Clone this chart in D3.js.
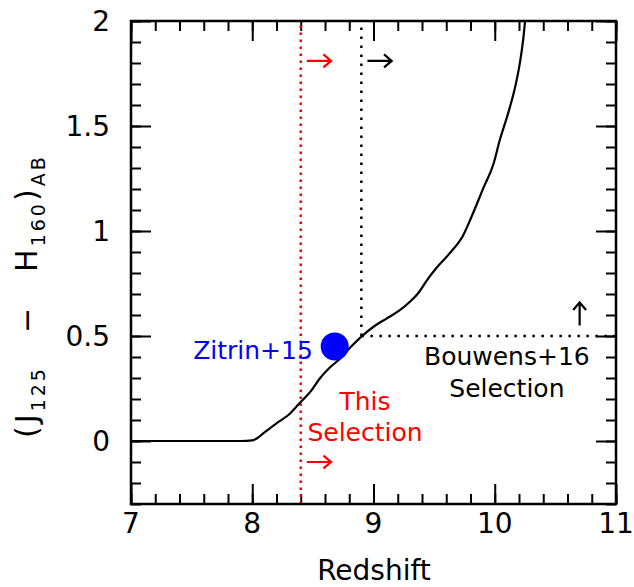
<!DOCTYPE html>
<html>
<head>
<meta charset="utf-8">
<script src="https://cdn.jsdelivr.net/npm/d3@7"></script>
<style>
  body { margin: 0; background: #fff; }
  text { font-family: "DejaVu Sans", sans-serif; }
</style>
</head>
<body>
<script>
// colour track
const redshift = [7.0, 7.5, 7.9, 8.0, 8.04, 8.09, 8.2, 8.31, 8.39, 8.48, 8.56, 8.64, 8.72, 8.81, 8.9,
  9.0, 9.11, 9.22, 9.3, 9.37, 9.44, 9.52, 9.63, 9.74, 9.81, 9.91, 9.99, 10.04, 10.11, 10.17, 10.21, 10.24, 10.25];
const color = [0, 0, 0, 0.003, 0.013, 0.036, 0.084, 0.13, 0.18, 0.235, 0.30, 0.35, 0.39, 0.446, 0.497,
  0.544, 0.584, 0.624, 0.663, 0.705, 0.765, 0.825, 0.895, 0.98, 1.07, 1.21, 1.32, 1.43, 1.56, 1.69, 1.81, 1.94, 2.0];

const zitrinPoint = [8.68, 0.45];
const thisCut = 8.4;
const bouwensZ = 8.9;
const bouwensColor = 0.5;

const xTicks = [7, 8, 9, 10, 11];
const yTicks = [0, 0.5, 1, 1.5, 2];

const w = 634;
const h = 587;
const margin = {top: 21, right: 18, bottom: 83, left: 131};

const svg = d3.select("body").append("svg")
    .attr("width", w)
    .attr("height", h);

const x = d3.scaleLinear().domain([7, 11]).range([margin.left, w - margin.right]);
const y = d3.scaleLinear().domain([-0.3, 2]).range([h - margin.bottom, margin.top]);

const xMinor = d3.range(7, 11.001, 0.2);
const yMinor = d3.range(-0.3, 2.001, 0.1);

function ticks(axis, scale, vals, size) {
  return axis(scale).tickValues(vals).tickSize(-size).tickFormat("");
}

const axes = [
  [d3.axisBottom, x, `translate(0,${y(-0.3)})`],
  [d3.axisTop, x, `translate(0,${y(2)})`],
  [d3.axisLeft, y, `translate(${x(7)},0)`],
  [d3.axisRight, y, `translate(${x(11)},0)`]
];
axes.forEach(([ax, sc, tr]) => {
  const isX = sc === x;
  const g1 = svg.append("g").attr("transform", tr)
      .call(ticks(ax, sc, isX ? xTicks : yTicks, 20));
  const g2 = svg.append("g").attr("transform", tr)
      .call(ticks(ax, sc, isX ? xMinor : yMinor, 10));
  [g1, g2].forEach(g => {
    g.select(".domain").remove();
    g.selectAll("line").attr("stroke", "#000").attr("stroke-width", 2);
  });
});

// tick labels
svg.append("g").selectAll("text")
  .data(xTicks).join("text")
    .attr("x", d => x(d))
    .attr("y", 533)
    .attr("text-anchor", "middle")
    .attr("font-size", 28)
    .text(d => d);

svg.append("g").selectAll("text")
  .data(yTicks).join("text")
    .attr("x", 110)
    .attr("y", d => y(d))
    .attr("dy", "0.36em")
    .attr("text-anchor", "end")
    .attr("font-size", 28)
    .text(d => d);

svg.append("text")
    .attr("x", 374)
    .attr("y", 580)
    .attr("text-anchor", "middle")
    .attr("font-size", 28)
    .text("Redshift");

const yl = svg.append("text")
    .attr("transform", `translate(37,${y(0.69)}) rotate(-90)`)
    .attr("text-anchor", "middle")
    .attr("letter-spacing", 3)
    .attr("font-size", 30);
yl.append("tspan").text("(J");
yl.append("tspan").attr("font-size", 19).attr("dy", 8).text("125");
yl.append("tspan").attr("dy", -8).text("\u2003\u2212\u2003H");
yl.append("tspan").attr("font-size", 19).attr("dy", 8).text("160");
yl.append("tspan").attr("dy", -8).text(")");
yl.append("tspan").attr("font-size", 19).attr("dy", 8).text("AB");

// selection lines
svg.append("line")
    .attr("x1", x(thisCut)).attr("x2", x(thisCut))
    .attr("y1", y(-0.3)).attr("y2", y(2))
    .attr("stroke", "#ff0000").attr("stroke-width", 2.5)
    .attr("stroke-dasharray", "2.5,4.5");

svg.append("line")
    .attr("x1", x(bouwensZ)).attr("x2", x(bouwensZ))
    .attr("y1", y(bouwensColor)).attr("y2", y(2))
    .attr("stroke", "#000").attr("stroke-width", 2.5)
    .attr("stroke-dasharray", "2.5,6.5");

svg.append("line")
    .attr("x1", x(bouwensZ)).attr("x2", x(11))
    .attr("y1", y(bouwensColor)).attr("y2", y(bouwensColor))
    .attr("stroke", "#000").attr("stroke-width", 2.5)
    .attr("stroke-dasharray", "2.5,6.5");

// colour track
const line = d3.line()
    .x((d, i) => x(redshift[i]))
    .y(d => y(d))
    .curve(d3.curveMonotoneX);

svg.append("path")
    .datum(color)
    .attr("fill", "none")
    .attr("stroke", "#000")
    .attr("stroke-width", 2.2)
    .attr("d", line);

svg.append("circle")
    .attr("cx", x(zitrinPoint[0]))
    .attr("cy", y(zitrinPoint[1]))
    .attr("r", 14)
    .attr("fill", "#0000ff");

// arrows
function arrow(x1, y1, x2, y2, col) {
  const X1 = x(x1), Y1 = y(y1), X2 = x(x2), Y2 = y(y2);
  const a = Math.atan2(Y2 - Y1, X2 - X1);
  const L = 10, s = 0.7;
  svg.append("path")
      .attr("d", `M${X1},${Y1}L${X2},${Y2}` +
        `M${X2 - L * Math.cos(a - s)},${Y2 - L * Math.sin(a - s)}L${X2},${Y2}` +
        `L${X2 - L * Math.cos(a + s)},${Y2 - L * Math.sin(a + s)}`)
      .attr("fill", "none")
      .attr("stroke", col)
      .attr("stroke-width", 2.2);
}
arrow(8.45, 1.81, 8.65, 1.81, "#ff0000");
arrow(8.95, 1.81, 9.15, 1.81, "#000");
arrow(8.45, -0.1, 8.65, -0.1, "#ff0000");
arrow(10.7, 0.55, 10.7, 0.66, "#000");

// annotations
svg.append("text")
    .attr("x", x(8.5)).attr("y", y(0.39))
    .attr("text-anchor", "end").attr("font-size", 25)
    .attr("fill", "#0000ff").text("Zitrin+15");

[["This", 0.15], ["Selection", 0.0]].forEach(([t, v]) => {
  svg.append("text")
      .attr("x", x(8.93)).attr("y", y(v))
      .attr("text-anchor", "middle").attr("font-size", 25)
      .attr("fill", "#ff0000").text(t);
});

[["Bouwens+16", 0.36], ["Selection", 0.21]].forEach(([t, v]) => {
  svg.append("text")
      .attr("x", x(10.1)).attr("y", y(v))
      .attr("text-anchor", "middle").attr("font-size", 25)
      .attr("fill", "#000").text(t);
});

// frame
svg.append("rect")
    .attr("x", x(7)).attr("y", y(2))
    .attr("width", x(11) - x(7))
    .attr("height", y(-0.3) - y(2))
    .attr("fill", "none")
    .attr("stroke", "#000")
    .attr("stroke-width", 2.5);
</script>
</body>
</html>
